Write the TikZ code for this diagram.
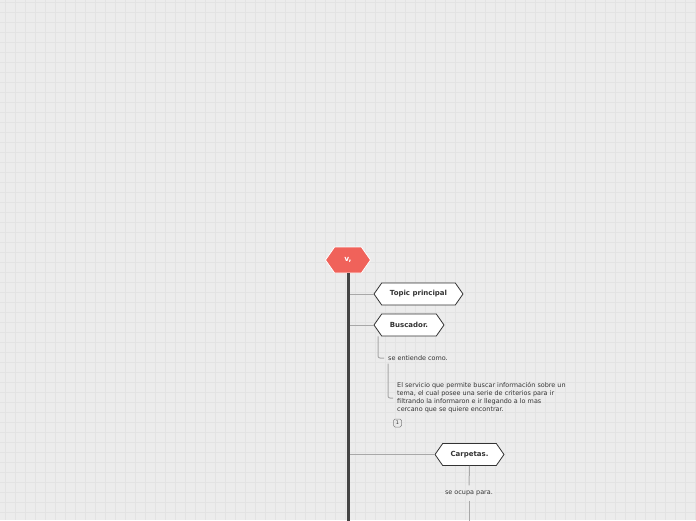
\documentclass[tikz,border=0pt]{standalone}
\usepackage{fontspec}
\setmainfont{DejaVu Sans}
\usetikzlibrary{shapes,positioning,calc}
\definecolor{paper}{HTML}{ECECEC}
\definecolor{gridline}{HTML}{E3E3E3}
\definecolor{rootred}{HTML}{F0625A}
\definecolor{trunkgray}{HTML}{444444}
\definecolor{linkgray}{HTML}{A8A8A8}
\definecolor{inkgray}{HTML}{333333}
\tikzset{
  hexbox/.style={draw=inkgray, fill=white, line width=0.8pt, signal, signal to=west and east,
    signal pointer angle=110, minimum height=22pt, inner xsep=4pt,
    font=\fontsize{7}{8}\bfseries\selectfont, text=inkgray},
  rootbox/.style={hexbox, draw=white, fill=rootred, text=white, minimum height=26pt, minimum width=45pt,
    font=\fontsize{7.5}{8}\bfseries\selectfont},
  small/.style={font=\fontsize{6.45}{8}\selectfont, text=inkgray, inner sep=1pt},
  branch/.style={draw=linkgray, line width=1pt},
  sub/.style={draw=linkgray, line width=1pt, rounded corners=2pt, shorten >=3pt}
}
\begin{document}
\begin{tikzpicture}[x=1pt, y=-1pt]
% Paper and grid
\useasboundingbox (0,0) rectangle (696,520);
\fill[paper] (0,0) rectangle (696,520);
\foreach \gx in {5,15,...,695} \draw[gridline, line width=0.5pt] (\gx,0) -- (\gx,520);
\foreach \gy in {2.5,12.5,...,520} \draw[gridline, line width=0.5pt] (0,\gy) -- (696,\gy);
\clip (0,0) rectangle (696,520);

% Central topic
\node[rootbox] (root) at (348,260) {v,};
\coordinate (trunkend) at (348,530);

% Main topics
\node[hexbox, minimum width=89pt] (topic) at (418.5,294) {Topic principal};
\node[hexbox, minimum width=70pt] (busc) at (409,325) {Buscador.};
\node[hexbox, minimum width=69pt] (carp) at (469.5,454.5) {Carpetas.};

% Trunk and branches
\draw[branch] (topic.west) -- (topic.west -| root.south);
\draw[branch] (busc.west) -- (busc.west -| root.south);
\draw[branch] (carp.west) -- (carp.west -| root.south);
\draw[trunkgray, line width=3pt] (root.south) -- (trunkend);

% Buscador. details
\node[small, anchor=west] (entiende) at (387,358) {se entiende como.};
\node[small, anchor=west, align=left] (desc) at (396,398)
  {El servicio que permite buscar información sobre un\\
   tema, el cual posee una serie de criterios para ir\\
   filtrando la informaron e ir llegando a lo mas\\
   cercano que se quiere encontrar.};
\node[draw=gray, rounded corners=1.5pt, line width=0.5pt, inner sep=1pt, minimum size=8pt,
  font=\fontsize{5}{5}\selectfont, text=inkgray] (note) at (397.5,423) {1};
\draw[sub] ($(busc.south)+(-31,0)$) |- (entiende.west);
\draw[sub] ($(entiende.south west)+(1,2)$) |- (desc.west);

% Carpetas. details
\node[small, fill=paper] (ocupa) at (469,493) {se ocupa para.};
\coordinate (carpend) at (469,530);
\draw[branch] (carp.south) -- ($(ocupa.north)+(0,-4)$);
\draw[branch] ($(ocupa.south)+(0,4)$) -- (carpend);
\end{tikzpicture}
\end{document}
